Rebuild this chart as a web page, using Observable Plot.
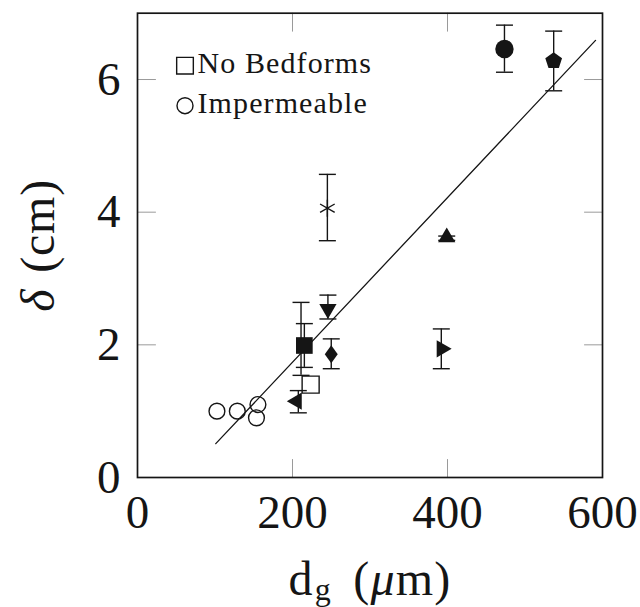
<!DOCTYPE html>
<html><head><meta charset="utf-8">
<script src="https://cdn.jsdelivr.net/npm/d3@7"></script>
<script src="https://cdn.jsdelivr.net/npm/@observablehq/plot@0.6"></script>
<style>body{margin:0;background:#fff;} svg text, svg tspan {font-family: "Liberation Serif", "DejaVu Serif", serif;}</style>
</head><body><div id="chart"></div>
<script>
// ---- data ----
const xTicks = [0, 200, 400, 600];
const yTicks = [0, 2, 4, 6];
const xLabel = "dg (μm)";
const yLabel = "δ (cm)";
const legendLabels = ["No Bedforms", "Impermeable"];
const legendShapes = ["squareOpen", "circleOpen"];

const pointX = [473.5, 537, 245, 399, 245.7, 250, 392.5, 215.3, 205.5, 223.4, 102.5, 128.8, 155.4, 153.5];
const pointY = [6.46, 6.28, 4.06, 3.62, 2.54, 1.86, 1.94, 1.99, 1.15, 1.40, 1.00, 1.00, 1.10, 0.90];
const pointShape = ["circle", "pentagon", "asterisk", "triangleUp", "triangleDown", "diamond", "triangleRight",
  "square", "triangleLeft", "squareOpen", "circleOpen", "circleOpen", "circleOpen", "circleOpen"];

const errX = [473.5, 537, 245, 399, 245.7, 250, 392, 211, 215.3, 207.5];
const errLo = [6.11, 5.83, 3.57, 3.575, 2.39, 1.64, 1.64, 1.54, 1.66, 0.975];
const errHi = [6.82, 6.73, 4.57, 3.64, 2.75, 2.09, 2.24, 2.64, 2.32, 1.31];

const fitX = [101, 591];
const fitY = [0.51, 6.59];

// ---- tables ----
const points = pointX.map((x, i) => ({x, y: pointY[i], shape: pointShape[i]}));
const errs = errX.map((x, i) => ({x, lo: errLo[i], hi: errHi[i]}));
const fit = fitX.map((x, i) => ({x, y: fitY[i]}));

// ---- symbols ----
const capSym = {draw(ctx, size) { const w = Math.sqrt(size / Math.PI); ctx.moveTo(-w, 0); ctx.lineTo(w, 0); }};
const pentSym = {draw(ctx, size) {
  const R = Math.sqrt(size / Math.PI);
  for (let k = 0; k < 5; k++) {
    const a = -Math.PI / 2 + k * 2 * Math.PI / 5;
    const px = R * Math.cos(a), py = R * Math.sin(a);
    if (k) ctx.lineTo(px, py); else ctx.moveTo(px, py);
  }
  ctx.closePath();
}};
const diamSym = {draw(ctx, size) {
  const h = Math.sqrt(size / Math.PI), w = 0.72 * h;
  ctx.moveTo(0, -h); ctx.lineTo(w, 0); ctx.lineTo(0, h); ctx.lineTo(-w, 0); ctx.closePath();
}};
const tickShape = {draw(ctx, l) { ctx.moveTo(0, 0); ctx.lineTo(0, -l); }};

const FONT = "'Liberation Serif', 'DejaVu Serif', serif";
const K = "#151515";
const shapeStyle = {
  circle: {symbol: "circle", r: 9.2, fill: K},
  pentagon: {symbol: pentSym, r: 8.8, fill: K},
  asterisk: {symbol: "asterisk", r: 8, stroke: K, strokeWidth: 1.4, fill: "none"},
  triangleUp: {symbol: "triangle", r: 6.4, fill: K},
  triangleDown: {symbol: "triangle", r: 6.4, fill: K, rotate: 180},
  triangleRight: {symbol: "triangle", r: 6.4, fill: K, rotate: 90},
  triangleLeft: {symbol: "triangle", r: 6.4, fill: K, rotate: -90},
  diamond: {symbol: diamSym, r: 9, fill: K},
  square: {symbol: "square", r: 9.4, fill: K},
  squareOpen: {symbol: "square", r: 9.6, fill: "none", stroke: K, strokeWidth: 1.4},
  circleOpen: {symbol: "circle", r: 7.9, fill: "none", stroke: K, strokeWidth: 1.4}
};

const pointMarks = [...new Set(pointShape)].map(s =>
  Plot.dot(points.filter(d => d.shape === s), {x: "x", y: "y", ...shapeStyle[s]}));

const tickStyle = {length: 18, anchor: "start", shape: tickShape, stroke: "#9a9a9a", strokeWidth: 1};

const legendMarks = legendLabels.flatMap((lab, i) => [
  Plot.dot([lab], {frameAnchor: "top-left", dx: 47.5, dy: 52.5 + i * 40, ...shapeStyle[legendShapes[i]],
    r: legendShapes[i] === "squareOpen" ? 9.4 : 8}),
  Plot.text([lab], {text: d => d, frameAnchor: "top-left", dx: 60, dy: 60 + i * 39.5,
    textAnchor: "start", lineAnchor: "bottom", fontSize: 30, fontFamily: FONT, fill: K})
]);

const chart = Plot.plot({
  width: 640, height: 607,
  marginTop: 12.7, marginBottom: 130, marginLeft: 137, marginRight: 38,
  x: {domain: [0, 600]},
  y: {domain: [0, 7]},
  style: {background: "white", color: K, overflow: "visible"},
  marks: [
    Plot.vector(xTicks, {x: d => d, frameAnchor: "bottom", rotate: 0, ...tickStyle}),
    Plot.vector(xTicks, {x: d => d, frameAnchor: "top", rotate: 180, ...tickStyle}),
    Plot.vector(yTicks, {y: d => d, frameAnchor: "left", rotate: 90, ...tickStyle}),
    Plot.vector(yTicks, {y: d => d, frameAnchor: "right", rotate: -90, ...tickStyle}),
    Plot.axisX({ticks: xTicks, tickSize: 0, tickPadding: 17, fontSize: 47, fontFamily: FONT, label: null, tickFormat: d => String(d)}),
    Plot.axisY({ticks: yTicks, tickSize: 0, tickPadding: 17, fontSize: 47, fontFamily: FONT, label: null, tickFormat: d => String(d)}),
    Plot.line(fit, {x: "x", y: "y", stroke: K, strokeWidth: 1.3}),
    Plot.ruleX(errs, {x: "x", y1: "lo", y2: "hi", stroke: K, strokeWidth: 1.4}),
    Plot.dot(errs, {x: "x", y: "lo", symbol: capSym, r: 8.5, stroke: K, strokeWidth: 1.4, fill: "none"}),
    Plot.dot(errs, {x: "x", y: "hi", symbol: capSym, r: 8.5, stroke: K, strokeWidth: 1.4, fill: "none"}),
    ...pointMarks,
    ...legendMarks,
    Plot.text([xLabel], {text: d => d, frameAnchor: "bottom", dy: 117, lineAnchor: "bottom", fontSize: 48, fontFamily: FONT, fill: K}),
    Plot.text([yLabel], {text: d => d, frameAnchor: "left", dx: -84, rotate: -90, lineAnchor: "bottom", textAnchor: "middle", fontSize: 48, fontFamily: FONT, fill: K}),
    Plot.frame({stroke: K, strokeWidth: 1.7})
  ]
});

// rich text for the axis labels (subscript / italic)
const NS = "http://www.w3.org/2000/svg";
function richText(svg, plain, parts) {
  for (const el of svg.querySelectorAll("text")) {
    if (el.textContent === plain) {
      el.textContent = "";
      for (const p of parts) {
        const ts = document.createElementNS(NS, "tspan");
        ts.textContent = p.t;
        if (p.italic) ts.setAttribute("font-style", "italic");
        if (p.dy != null) ts.setAttribute("dy", p.dy);
        if (p.dx != null) ts.setAttribute("dx", p.dx);
        if (p.size) ts.setAttribute("font-size", p.size);
        el.appendChild(ts);
      }
      return el;
    }
  }
}
const xl = richText(chart, xLabel, [{t: "d"}, {t: "g", size: 32, dy: 5, dx: 1}, {t: " (", dy: -5, dx: 8}, {t: "μ", italic: true}, {t: "m)"}]);
if (xl) xl.style.letterSpacing = "1.2px";
const yl = richText(chart, yLabel, [{t: "δ", italic: true}, {t: " (", dx: 3}, {t: "cm)"}]);
if (yl) yl.style.letterSpacing = "0.8px";
chart.querySelectorAll("text").forEach(t => {
  t.style.fontFamily = FONT;
  if (legendLabels.includes(t.textContent)) t.style.letterSpacing = "1.1px";
});

document.getElementById("chart").appendChild(chart);
</script>
</body></html>
